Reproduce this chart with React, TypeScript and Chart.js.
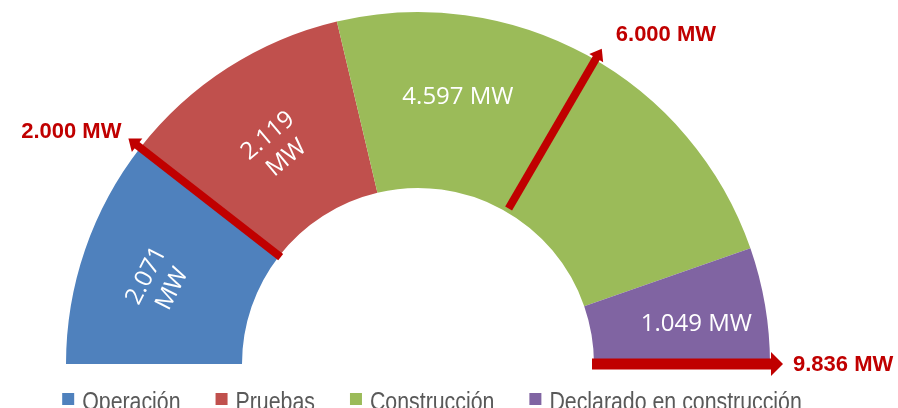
import React, { useEffect, useRef } from "react";
import { Chart, registerables } from "chart.js";

Chart.register(...registerables);

// ---- data ----
const categories = ["Operación", "Pruebas", "Construcción", "Declarado en construcción"];
const capacityMW = [2071, 2119, 4597, 1049];
const markerLabels = ["2.000 MW", "6.000 MW", "9.836 MW"];
// position on the cumulative MW scale where each reference arrow is drawn
const markerPositions = [2071, 6570, 9836];

// ---- styles ----
const segmentColors = ["#4F81BD", "#C0504D", "#9BBB59", "#8064A2"];
const arrowColor = "#C00000";
const legendColor = "#595959";

const fmtMW = (v: number) => v.toLocaleString("de-DE");

const valueLabelStyle = [
  { dx: -9, dy: 4, rot: -63, wrap: true },
  { dx: 2, dy: 5, rot: -40, wrap: true },
  { dx: -87, dy: -35, rot: 0, wrap: false },
  { dx: 18, dy: 4, rot: 0, wrap: false },
];

const arrowStyle = [
  { width: 8, head: 11, headW: 17, inner: -2, outer: 15, align: "right", tdx: -7, tdy: -7 },
  { width: 8, head: 11, headW: 16, inner: 4, outer: 13, align: "left", tdx: 14, tdy: -14 },
  { width: 11, head: 12, headW: 24, inner: -2, outer: 13, align: "left", tdx: 10, tdy: 1 },
];

const valueLabelsPlugin = {
  id: "valueLabels",
  afterDatasetsDraw(chart: any) {
    const ctx = chart.ctx;
    const meta = chart.getDatasetMeta(0);
    ctx.save();
    ctx.fillStyle = "#FFFFFF";
    ctx.font = '24px "Open Sans", sans-serif';
    ctx.textAlign = "center";
    ctx.textBaseline = "middle";
    meta.data.forEach((arc: any, i: number) => {
      const st = valueLabelStyle[i];
      const p = arc.getCenterPoint();
      const text = fmtMW(capacityMW[i]) + " MW";
      const lines = st.wrap ? text.split(" ") : [text];
      ctx.save();
      ctx.translate(p.x + st.dx, p.y + st.dy);
      ctx.rotate((st.rot * Math.PI) / 180);
      const lh = 29;
      lines.forEach((ln, k) => {
        ctx.fillText(ln, 0, (k - (lines.length - 1) / 2) * lh);
      });
      ctx.restore();
    });
    ctx.restore();
  },
};

const arrowsPlugin = {
  id: "arrows",
  afterDatasetsDraw(chart: any) {
    const ctx = chart.ctx;
    const meta = chart.getDatasetMeta(0);
    const arc0: any = meta.data[0];
    const { x, y, innerRadius, outerRadius } = arc0.getProps(
      ["x", "y", "innerRadius", "outerRadius"],
      true
    );
    const total = capacityMW.reduce((a, b) => a + b, 0);
    const rotation = -Math.PI;
    const circ = Math.PI;
    ctx.save();
    markerPositions.forEach((pos, i) => {
      const st: any = arrowStyle[i];
      const a = rotation + (circ * pos) / total;
      const c = Math.cos(a);
      const s = Math.sin(a);
      const r0 = innerRadius + st.inner;
      const r1 = outerRadius + st.outer;
      const rb = r1 - st.head;
      ctx.strokeStyle = arrowColor;
      ctx.fillStyle = arrowColor;
      ctx.lineWidth = st.width;
      ctx.lineCap = "butt";
      ctx.beginPath();
      ctx.moveTo(x + r0 * c, y + r0 * s);
      ctx.lineTo(x + (rb + 1) * c, y + (rb + 1) * s);
      ctx.stroke();
      const px = -s;
      const py = c;
      const tipX = x + r1 * c;
      const tipY = y + r1 * s;
      ctx.beginPath();
      ctx.moveTo(tipX, tipY);
      ctx.lineTo(x + rb * c + (px * st.headW) / 2, y + rb * s + (py * st.headW) / 2);
      ctx.lineTo(x + rb * c - (px * st.headW) / 2, y + rb * s - (py * st.headW) / 2);
      ctx.closePath();
      ctx.fill();
      ctx.font = 'bold 22px "Liberation Sans", Arial, sans-serif';
      ctx.textAlign = st.align;
      ctx.textBaseline = "middle";
      ctx.fillText(markerLabels[i], tipX + st.tdx, tipY + st.tdy);
    });
    ctx.restore();
  },
};

const legendPlugin = {
  id: "customLegend",
  afterDraw(chart: any) {
    const ctx = chart.ctx;
    ctx.save();
    ctx.font = '26px "Liberation Sans", Arial, sans-serif';
    ctx.textBaseline = "alphabetic";
    ctx.textAlign = "left";
    const narrow = 0.82;
    const box = 12;
    const gap = 8;
    const spacing = 35;
    const widths = categories.map((c) => ctx.measureText(c).width * narrow);
    const total =
      widths.reduce((a, w) => a + box + gap + w, 0) + spacing * (categories.length - 1);
    let cx = 432 - total / 2;
    categories.forEach((c, i) => {
      ctx.fillStyle = segmentColors[i];
      ctx.fillRect(cx, 393, box, box);
      ctx.fillStyle = legendColor;
      ctx.save();
      ctx.translate(cx + box + gap, 410);
      ctx.scale(narrow, 1);
      ctx.fillText(c, 0, 0);
      ctx.restore();
      cx += box + gap + widths[i] + spacing;
    });
    ctx.restore();
  },
};

export default function App() {
  const ref = useRef<HTMLCanvasElement | null>(null);
  useEffect(() => {
    if (!ref.current) return;
    const chart = new Chart(ref.current, {
      type: "doughnut",
      data: {
        labels: categories,
        datasets: [
          {
            data: capacityMW,
            backgroundColor: segmentColors,
            borderWidth: 0,
          },
        ],
      },
      options: {
        responsive: false,
        animation: false,
        rotation: -90,
        circumference: 180,
        cutout: "50%",
        layout: { padding: { left: 66, right: 128, top: 12, bottom: 44 } },
        plugins: {
          legend: { display: false },
          tooltip: { enabled: false },
        },
      },
      plugins: [valueLabelsPlugin, arrowsPlugin, legendPlugin],
    });
    return () => chart.destroy();
  }, []);
  return (
    <div style={{ position: "absolute", left: 0, top: 0, width: 898, height: 408, overflow: "hidden", background: "#fff" }}>
      <canvas ref={ref} width={898} height={408} style={{ width: 898, height: 408, display: "block" }} />
    </div>
  );
}
